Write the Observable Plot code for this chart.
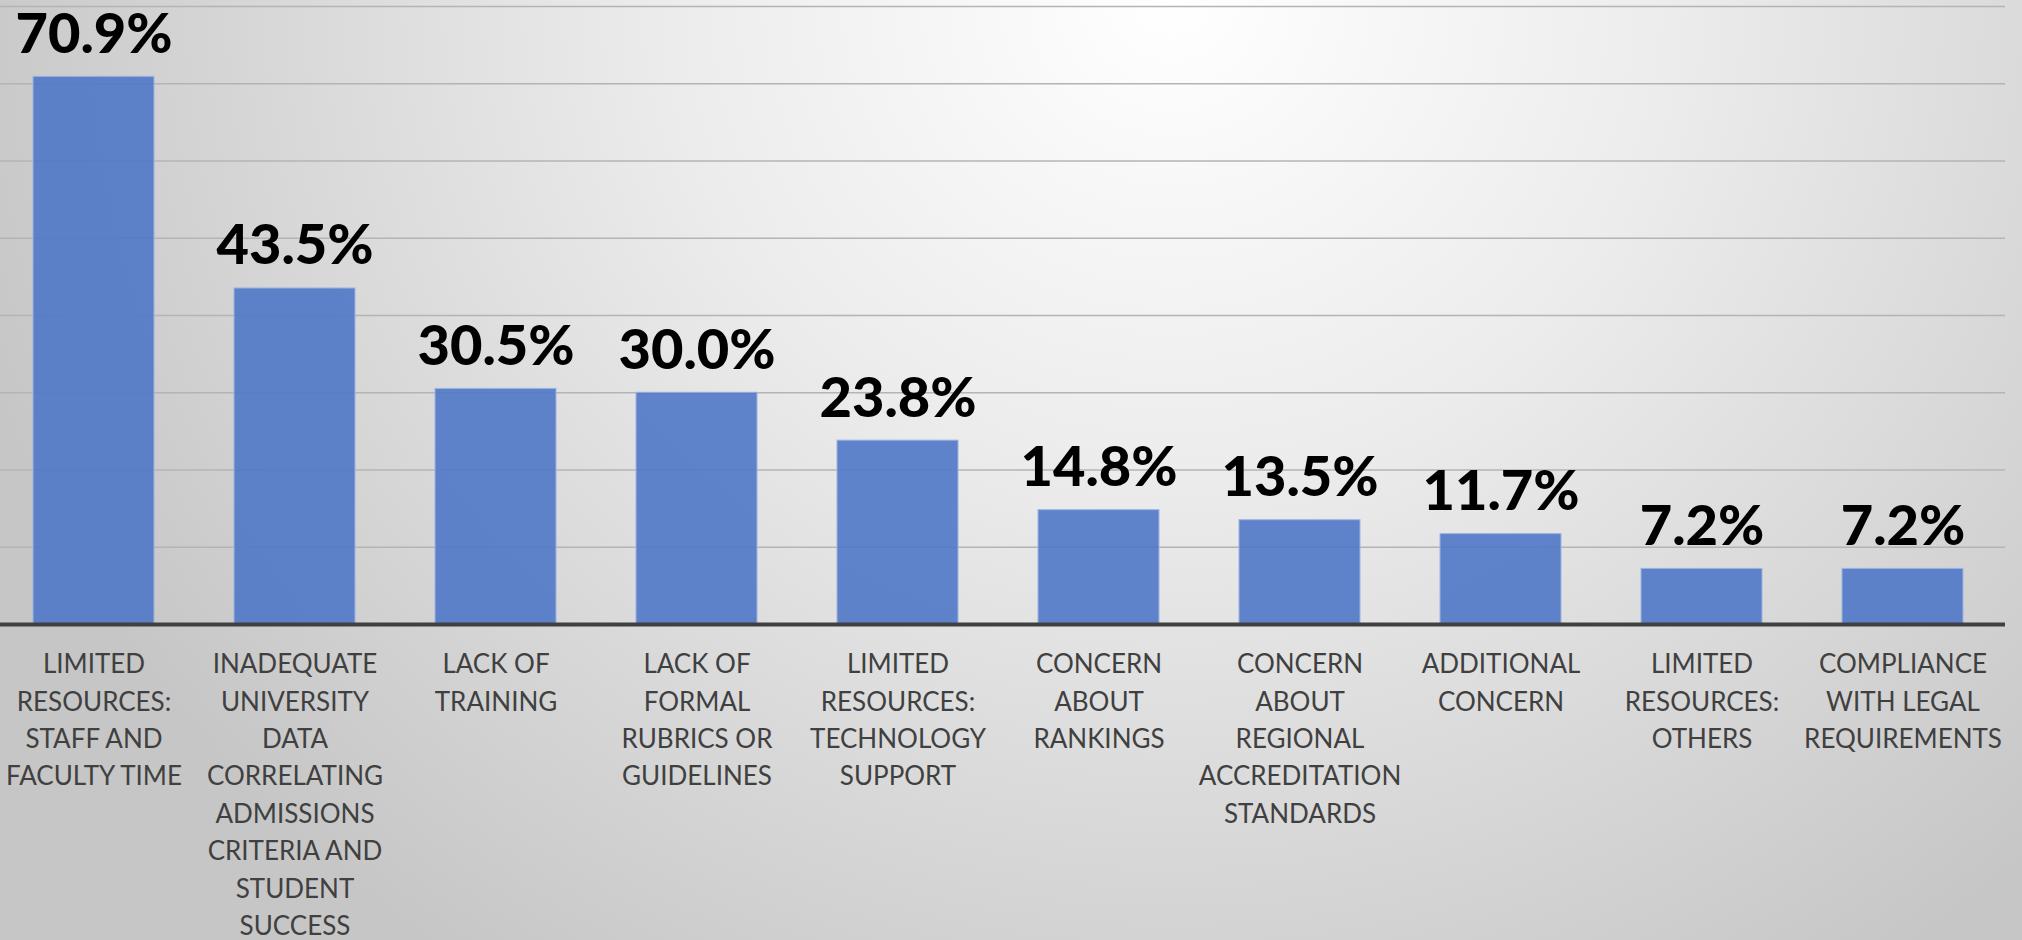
<!DOCTYPE html>
<html><head><meta charset="utf-8">
<script src="https://cdn.jsdelivr.net/npm/d3@7"></script>
<script src="https://cdn.jsdelivr.net/npm/@observablehq/plot@0.6"></script>
<style>
html,body{margin:0;padding:0;width:2022px;height:940px;overflow:hidden;}
body{background: radial-gradient(ellipse 62% 125% at 58% 0%, #ffffff 0%, #ececec 40%, #c6c6c6 100%);}
#chart svg{display:block;}
</style></head><body><div id="chart"></div>
<script>
const categories = [
  "LIMITED\nRESOURCES:\nSTAFF AND\nFACULTY TIME",
  "INADEQUATE\nUNIVERSITY\nDATA\nCORRELATING\nADMISSIONS\nCRITERIA AND\nSTUDENT\nSUCCESS",
  "LACK OF\nTRAINING",
  "LACK OF\nFORMAL\nRUBRICS OR\nGUIDELINES",
  "LIMITED\nRESOURCES:\nTECHNOLOGY\nSUPPORT",
  "CONCERN\nABOUT\nRANKINGS",
  "CONCERN\nABOUT\nREGIONAL\nACCREDITATION\nSTANDARDS",
  "ADDITIONAL\nCONCERN",
  "LIMITED\nRESOURCES:\nOTHERS",
  "COMPLIANCE\nWITH LEGAL\nREQUIREMENTS"
];
const values = [70.9, 43.5, 30.5, 30.0, 23.8, 14.8, 13.5, 11.7, 7.2, 7.2];
const gridValues = [10, 20, 30, 40, 50, 60, 70, 80];

const data = categories.map((c, i) => ({category: c, value: values[i]}));

const chart = Plot.plot({
  width: 2022,
  height: 940,
  marginTop: 6,
  marginBottom: 316,
  marginLeft: 0,
  marginRight: 17,
  style: {background: "transparent", overflow: "visible", fontFamily: "Lato"},
  x: {domain: categories, range: [-9, 2005], paddingInner: 0.4, paddingOuter: 0.2, label: null},
  y: {domain: [0, 80], axis: null, label: null},
  marks: [
    Plot.ruleY(gridValues, {stroke: "#b4b4b4", strokeWidth: 1.5}),
    Plot.barY(data, {x: "category", y: "value", fill: "#4f78c6", fillOpacity: 0.9, stroke: "#9db4e2", strokeWidth: 1}),
    Plot.ruleY([0], {stroke: "#404040", strokeWidth: 4}),
    Plot.text(data, {
      x: "category", y: "value",
      text: d => d.value.toFixed(1) + "%",
      lineAnchor: "bottom", dy: -24,
      fontSize: 56, fontWeight: 900, fill: "#000000", fontFamily: "Lato"
    }),
    Plot.axisX({
      tickSize: 0, tickPadding: 22, fontSize: 26, lineHeight: 1.44,
      fill: "#404040", fontFamily: "Lato", label: null
    })
  ]
});
document.getElementById("chart").appendChild(chart);
</script>
</body></html>
